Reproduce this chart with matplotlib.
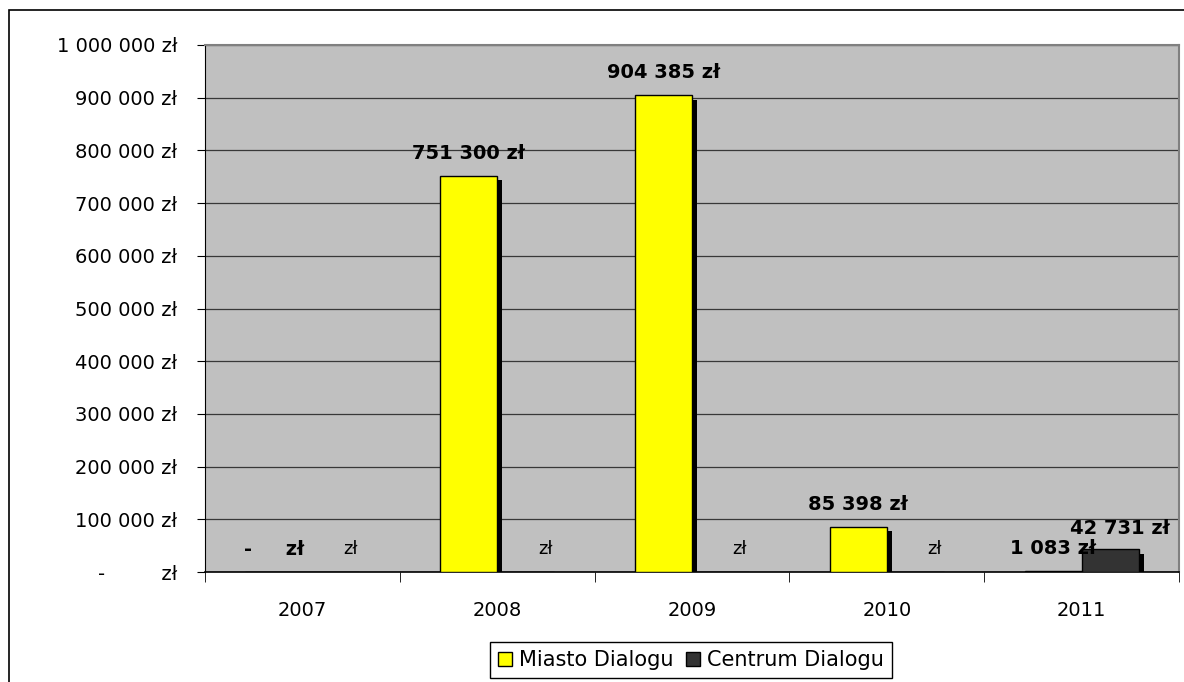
import matplotlib.pyplot as plt
import matplotlib.patheffects as pe
from matplotlib.patches import Rectangle
import numpy as np

# data -------------------------------------------------
years = ['2007', '2008', '2009', '2010', '2011']
miasto = [0, 751300, 904385, 85398, 1083]
centrum = [0, 0, 0, 0, 42731]
series_names = ['Miasto Dialogu', 'Centrum Dialogu']
yticks = [0, 100000, 200000, 300000, 400000, 500000, 600000, 700000, 800000, 900000, 1000000]


def zl(v):
    if v == 0:
        return '-         zł'
    return '{:,} zł'.format(v).replace(',', ' ')


plt.rcParams['font.family'] = ['DejaVu Sans']
fig = plt.figure(figsize=(11.84, 6.82), dpi=100)
fig.patches.append(Rectangle((9 / 1184, -0.1), 1.2, 1 - 10 / 682 + 0.1, transform=fig.transFigure,
                             fill=False, edgecolor='black', linewidth=1.2))
ax = fig.add_axes([205 / 1184, 1 - 572 / 682, 974 / 1184, 527 / 682])
ax.set_facecolor('#c0c0c0')

x = np.arange(len(years))
w = 0.293
shadow = [pe.SimplePatchShadow(offset=(3.5, -3), shadow_rgbFace='black', alpha=1), pe.Normal()]
b1 = ax.bar(x - w / 2, miasto, w, color='#ffff00', edgecolor='black', linewidth=1,
            label=series_names[0], zorder=3, path_effects=shadow)
b2 = ax.bar(x + w / 2, centrum, w, color='#333333', edgecolor='black', linewidth=1,
            label=series_names[1], zorder=3, path_effects=shadow)

# data labels
for xi, v in zip(x - w / 2, miasto):
    txt = '-     zł' if v == 0 else zl(v)
    ax.annotate(txt, (xi, v), xytext=(0, 16.5), textcoords='offset points',
                ha='center', va='center', fontsize=14, fontweight='bold', zorder=5)
for xi, v in zip(x + w / 2, centrum):
    if v == 0:
        ax.annotate('zł', (xi, v), xytext=(14, 16.5), textcoords='offset points',
                    ha='center', va='center', fontsize=13, zorder=5)
    else:
        ax.annotate(zl(v), (xi, v), xytext=(7, 15), textcoords='offset points',
                    ha='center', va='center', fontsize=14, fontweight='bold', zorder=5)

ax.set_ylim(0, 1000000)
ax.set_xlim(-0.5, len(years) - 0.5)
ax.set_yticks(yticks)
ax.set_yticklabels([zl(v) for v in yticks], fontsize=14)
ax.yaxis.grid(True, color='#383838', linewidth=0.9, zorder=1)
ax.set_axisbelow(True)
ax.tick_params(axis='y', length=6, pad=14, direction='out')

ax.set_xticks(x)
ax.set_xticklabels(years, fontsize=14)
ax.tick_params(axis='x', length=0, pad=21)
ax.set_xticks(np.arange(-0.5, len(years)), minor=True)
ax.tick_params(axis='x', which='minor', length=7, direction='out')

for s in ['top', 'right']:
    ax.spines[s].set_color('#808080')
    ax.spines[s].set_linewidth(1.5)
ax.spines['left'].set_color('black')
ax.spines['bottom'].set_color('black')
ax.spines['bottom'].set_linewidth(1.2)

leg = ax.legend(loc='center', bbox_to_anchor=(0.499, -0.167), ncol=2, fontsize=15,
                frameon=True, fancybox=False, edgecolor='black', framealpha=1,
                handlelength=0.65, handleheight=0.65, handletextpad=0.35, columnspacing=0.6,
                borderpad=0.4, borderaxespad=0)
leg.get_frame().set_linewidth(1)
for h in leg.legend_handles:
    h.set_path_effects([])

fig.savefig('out.png', dpi=100)
